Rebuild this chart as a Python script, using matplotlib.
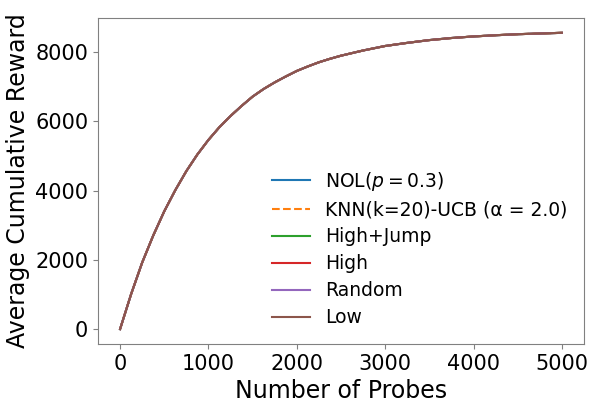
import matplotlib
matplotlib.use("Agg")
import matplotlib.pyplot as plt

probes = [0, 125, 250, 375, 500, 625, 750, 875, 1000, 1125, 1250, 1375,
          1500, 1625, 1750, 1875, 2000, 2125, 2250, 2375, 2500, 2750,
          3000, 3250, 3500, 3750, 4000, 4250, 4500, 4750, 5000]
nol = [0, 1010, 1920, 2700, 3400, 4010, 4560, 5040, 5460, 5830, 6150, 6440,
       6710, 6930, 7120, 7290, 7450, 7580, 7700, 7800, 7890, 8040,
       8170, 8260, 8340, 8400, 8445, 8480, 8510, 8530, 8550]
knn = list(nol)
high_jump = list(nol)
high = list(nol)
random_ = list(nol)
low = list(nol)

labels = [r"NOL($p=0.3$)", "KNN(k=20)-UCB (α = 2.0)", "High+Jump", "High", "Random", "Low"]
series = [nol, knn, high_jump, high, random_, low]
colors = ["#1f77b4", "#ff7f0e", "#2ca02c", "#d62728", "#9467bd", "#8c564b"]
styles = ["-", "--", "-", "-", "-", "-"]

fig = plt.figure(figsize=(5.92, 4.09), dpi=100)
ax = fig.add_axes([0.1655, 0.159, 0.821, 0.797])
for y, lab, c, ls in zip(series, labels, colors, styles):
    ax.plot(probes, y, ls, color=c, label=lab, linewidth=1.5)

for s in ax.spines.values():
    s.set_color("#808080")
ax.tick_params(colors="#808080", labelcolor="black", labelsize=15)
ax.set_xticks([0, 1000, 2000, 3000, 4000, 5000])
ax.set_yticks([0, 2000, 4000, 6000, 8000])
ax.set_xlabel("Number of Probes", fontsize=17)
ax.set_ylabel("Average Cumulative Reward", fontsize=17)
ax.legend(loc="lower right", frameon=False, fontsize=13.5, labelspacing=0.42,
          bbox_to_anchor=(1.0, 0.0))

fig.savefig("out.png", dpi=100)
